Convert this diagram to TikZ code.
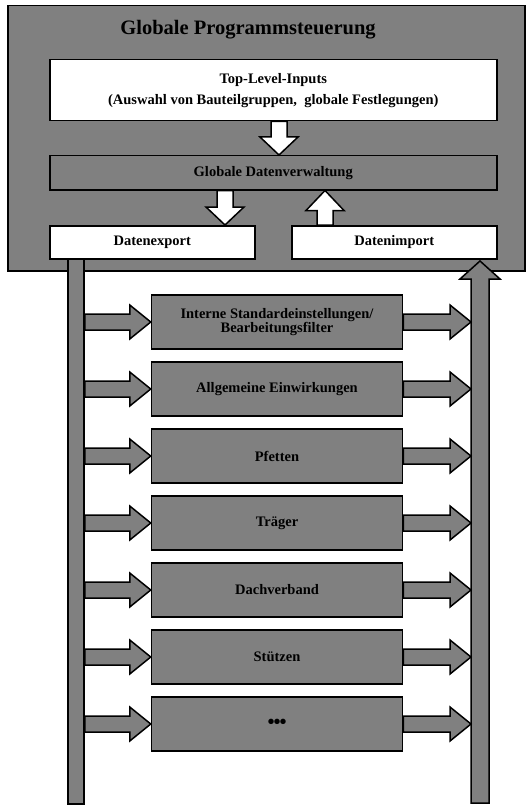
\documentclass[tikz,border=0pt]{standalone}
\usepackage{fontspec}
\setmainfont{Liberation Serif}
\usepackage{tikz}
\usetikzlibrary{calc, positioning}

\definecolor{boxgray}{HTML}{808080}

% fat block arrow: [fill] from, to, shaft half width, head half width, head length
\newcommand{\fatarrow}[6][white]{%
	\coordinate (fa-h) at ($(#3)!#6!(#2)$);
	\filldraw[line width=1.5pt, fill=#1, draw=black, line join=miter]
		($(#2)!#4!90:(#3)$) -- ($(fa-h)!#4!-90:(#2)$) -- ($(fa-h)!#5!-90:(#2)$) -- (#3)
		-- ($(fa-h)!#5!90:(#2)$) -- ($(fa-h)!#4!90:(#2)$) -- ($(#2)!#4!-90:(#3)$) -- cycle;
}

\tikzset{
	graybox/.style={draw=black, line width=1.5pt, fill=boxgray, inner sep=0pt,
		anchor=north west, font=\bfseries\fontsize{14.5}{13}\selectfont, align=center},
	whitebox/.style={graybox, fill=white},
	modbox/.style={graybox, anchor=center, minimum width=251pt, minimum height=54pt},
}

\begin{document}
\begin{tikzpicture}[x=1pt, y=-1pt]
	\useasboundingbox (0,0) rectangle (531,805);

	% global program control
	\node[graybox, minimum width=517pt, minimum height=265pt] (prog) at (7,5) {};
	\node[font=\bfseries\fontsize{20.5}{24}\selectfont] (title) at (248,30) {Globale Programmsteuerung};

	\node[whitebox, minimum width=447pt, minimum height=61pt, font=\bfseries\fontsize{14.5}{21}\selectfont] (inputs) at (49,59)
		{Top-Level-Inputs\\(Auswahl von Bauteilgruppen,\ \ globale Festlegungen)};
	\node[graybox, minimum width=447pt, minimum height=34pt] (verw) at (49,155) {Globale Datenverwaltung};
	\node[whitebox, minimum width=205pt, minimum height=33pt] (export) at (49,225) {Datenexport};
	\node[whitebox, minimum width=205pt, minimum height=33pt] (import) at (291,225) {Datenimport};

	\coordinate (a1s) at (inputs.south -| 279,0);
	\coordinate (a1e) at (verw.north -| 279,0);
	\fatarrow{a1s}{a1e}{8pt}{19pt}{18pt}
	\coordinate (a2s) at (verw.south -| 225,0);
	\coordinate (a2e) at (export.north -| 225,0);
	\fatarrow{a2s}{a2e}{8pt}{19pt}{18pt}
	\coordinate (a3s) at (import.north -| 325,0);
	\coordinate (a3e) at (verw.south -| 325,0);
	\fatarrow{a3s}{a3e}{8pt}{19pt}{20pt}

	% export and import bars
	\node[graybox, anchor=north, minimum width=16pt, minimum height=545pt] (lbar) at (76,258) {};
	\coordinate (rbot) at (480,803);
	\coordinate (rtop) at (480,261);
	\fatarrow[boxgray]{rbot}{rtop}{9pt}{20pt}{18pt}

	% modules
	\foreach \i/\txt in {1/{Interne Standardeinstellungen\slash\\Bearbeitungsfilter},
		2/Allgemeine Einwirkungen, 3/Pfetten, 4/Träger, 5/Dachverband, 6/Stützen,
		7/{\fontsize{20}{20}\selectfont•\kern-1pt•\kern-1pt•}} {
		\node[modbox] (m\i) at (277,{322+67*(\i-1)}) {\txt};
		\coordinate (l\i) at (lbar.east |- m\i.west);
		\coordinate (r\i) at (471,0 |- m\i.east);
		\fatarrow[boxgray]{l\i}{m\i.west}{8pt}{17pt}{21pt}
		\fatarrow[boxgray]{m\i.east}{r\i}{8pt}{17pt}{21pt}
	}

\end{tikzpicture}
\end{document}
